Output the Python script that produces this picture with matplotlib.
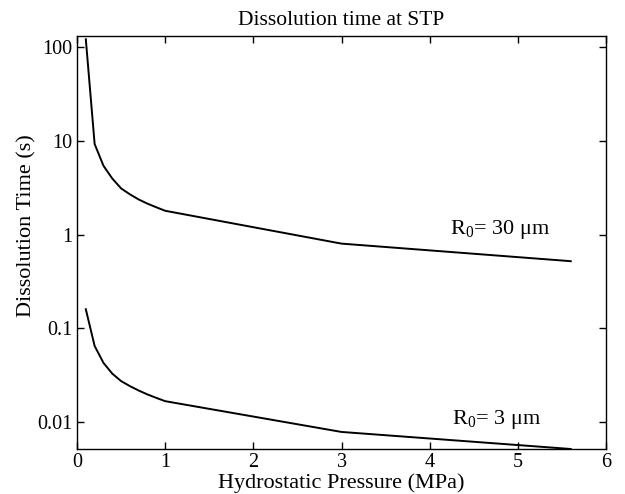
import matplotlib
matplotlib.use("Agg")
import matplotlib.pyplot as plt
from matplotlib.ticker import FixedLocator, FixedFormatter, NullLocator

plt.rcParams['font.family'] = ['Liberation Serif', 'DejaVu Serif']
plt.rcParams['mathtext.fontset'] = 'custom'
plt.rcParams['mathtext.rm'] = 'Liberation Serif'
plt.rcParams['mathtext.it'] = 'Liberation Serif:italic'

pressure = [0.1, 0.2, 0.3, 0.4, 0.5, 0.6, 0.7, 0.8, 0.9, 1.0, 3.0, 5.6]
time_30um = [120, 9.2, 5.4, 3.95, 3.1, 2.68, 2.36, 2.13, 1.95, 1.79, 0.80, 0.52]
time_3um = [0.16, 0.065, 0.043, 0.033, 0.0275, 0.0243, 0.0218, 0.0198, 0.0182, 0.0168, 0.0079, 0.0052]

yticks = [0.01, 0.1, 1, 10, 100]
ytick_labels = ['0.01', '0.1', '1', '10', '100']
xticks = [0, 1, 2, 3, 4, 5, 6]
xtick_labels = ['0', '1', '2', '3', '4', '5', '6']

fig = plt.figure(figsize=(6.25, 4.94), dpi=100)
ax = fig.add_axes([0.1232, 0.0911, 0.8464, 0.8360])

ax.plot(pressure, time_30um, color='black', lw=1.4)
ax.plot(pressure, time_3um, color='black', lw=1.4)

ax.set_yscale('log')
ax.set_xlim(0, 6)
ax.set_ylim(0.0052, 130)
ax.yaxis.set_major_locator(FixedLocator(yticks))
ax.yaxis.set_major_formatter(FixedFormatter(ytick_labels))
ax.yaxis.set_minor_locator(NullLocator())
ax.xaxis.set_major_locator(FixedLocator(xticks))
ax.xaxis.set_major_formatter(FixedFormatter(xtick_labels))

ax.tick_params(direction='in', top=True, right=True, length=5, width=1, labelsize=14.5, pad=3)
for s in ax.spines.values():
    s.set_linewidth(1.0)

ax.set_xlabel('Hydrostatic Pressure (MPa)', fontsize=16)
ax.xaxis.set_label_coords(0.5, -0.058)
ax.set_ylabel('Dissolution Time (s)', fontsize=16)
ax.yaxis.set_label_coords(-0.0775, 0.54)
ax.set_title('Dissolution time at STP', fontsize=15.5, x=0.5, pad=8)

ax.text(4.23, 1.02, r'R$_{\mathrm{0}}$= 30 μm', fontsize=16, va='baseline', ha='left')
ax.text(4.25, 0.0097, r'R$_{\mathrm{0}}$= 3 μm', fontsize=16, va='baseline', ha='left')

fig.savefig('out.png', dpi=100)
